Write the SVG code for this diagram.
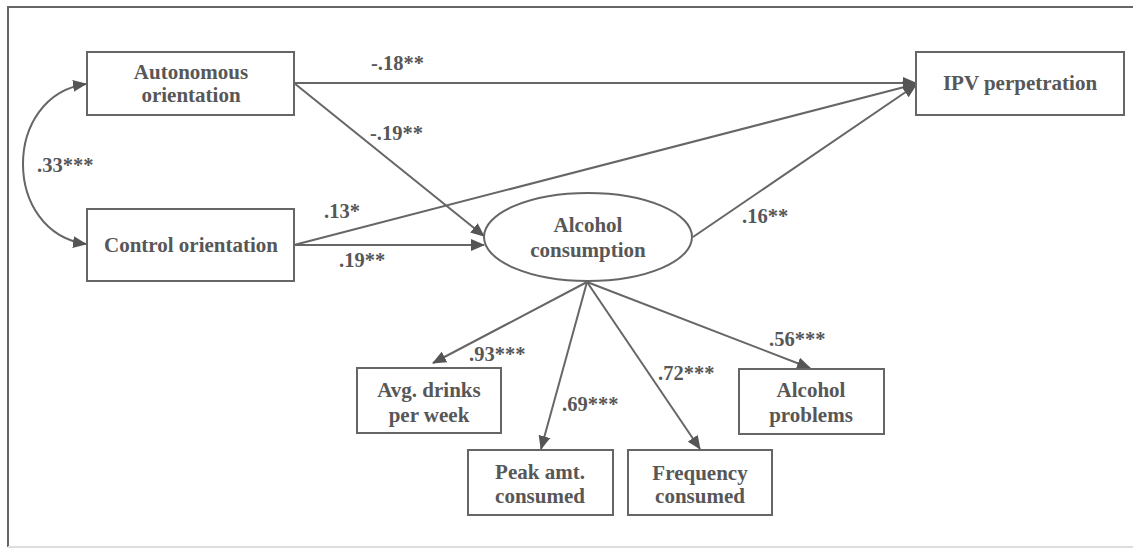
<svg xmlns="http://www.w3.org/2000/svg" width="1133" height="550" viewBox="0 0 1133 550">
<style>
.box{fill:#fff;stroke:#666;stroke-width:2}
.t{font-family:"Liberation Serif","Times New Roman",serif;font-weight:bold;font-size:21px;fill:#575757;text-anchor:middle}
.l{font-family:"Liberation Serif","Times New Roman",serif;font-weight:bold;font-size:20.5px;fill:#575757}
.c{fill:none;stroke:#666;stroke-width:2}
</style>
<defs>
<marker id="ah" markerUnits="userSpaceOnUse" markerWidth="14" markerHeight="12" refX="13" refY="6" orient="auto-start-reverse">
<path d="M0,0 L14,6 L0,12 Z" fill="#555"/>
</marker>
</defs>
<rect width="1133" height="550" fill="#fff"/>
<path d="M1133,7 H8 V547" fill="none" stroke="#666" stroke-width="2"/>
<path d="M8,547 H1133" fill="none" stroke="#ddd" stroke-width="2"/>

<g id="connectors">
<path class="c" d="M86,84 C2,96 2,232 86,244" marker-start="url(#ah)" marker-end="url(#ah)"/>
<line class="c" x1="294" y1="83" x2="916" y2="83" marker-end="url(#ah)"/>
<line class="c" x1="294" y1="83" x2="484" y2="236" marker-end="url(#ah)"/>
<line class="c" x1="294" y1="245" x2="916" y2="84" marker-end="url(#ah)"/>
<line class="c" x1="294" y1="245" x2="484" y2="245" marker-end="url(#ah)"/>
<line class="c" x1="693" y1="237" x2="916" y2="85" marker-end="url(#ah)"/>
<line class="c" x1="587" y1="282" x2="433" y2="363" marker-end="url(#ah)"/>
<line class="c" x1="587" y1="282" x2="541" y2="449" marker-end="url(#ah)"/>
<line class="c" x1="587" y1="282" x2="700" y2="449" marker-end="url(#ah)"/>
<line class="c" x1="587" y1="282" x2="810" y2="368" marker-end="url(#ah)"/>
<text class="l" x="37" y="172">.33***</text>
<text class="l" x="371" y="70">-.18**</text>
<text class="l" x="370" y="140">-.19**</text>
<text class="l" x="324" y="218">.13*</text>
<text class="l" x="339" y="267">.19**</text>
<text class="l" x="742" y="223">.16**</text>
<text class="l" x="469" y="361">.93***</text>
<text class="l" x="562" y="411">.69***</text>
<text class="l" x="658" y="380">.72***</text>
<text class="l" x="769" y="346">.56***</text>
</g>

<g id="autonomous">
<rect class="box" x="87" y="52" width="207" height="63"/>
<text class="t" x="191" y="79">Autonomous</text>
<text class="t" x="191" y="102">orientation</text>
</g>
<g id="control">
<rect class="box" x="87" y="209" width="207" height="72"/>
<text class="t" x="191" y="252">Control orientation</text>
</g>
<g id="ipv">
<rect class="box" x="916" y="52" width="208" height="63"/>
<text class="t" x="1020" y="90">IPV perpetration</text>
</g>
<g id="alcohol">
<ellipse class="box" cx="588" cy="237" rx="104" ry="44"/>
<text class="t" x="588" y="232">Alcohol</text>
<text class="t" x="588" y="257">consumption</text>
</g>
<g id="avg">
<rect class="box" x="357" y="368" width="144" height="65"/>
<text class="t" x="429" y="397">Avg. drinks</text>
<text class="t" x="429" y="422">per week</text>
</g>
<g id="peak">
<rect class="box" x="468" y="450" width="145" height="65"/>
<text class="t" x="540" y="479">Peak amt.</text>
<text class="t" x="540" y="503">consumed</text>
</g>
<g id="frequency">
<rect class="box" x="628" y="450" width="144" height="65"/>
<text class="t" x="700" y="480">Frequency</text>
<text class="t" x="700" y="503">consumed</text>
</g>
<g id="problems">
<rect class="box" x="739" y="369" width="145" height="65"/>
<text class="t" x="811" y="397">Alcohol</text>
<text class="t" x="811" y="422">problems</text>
</g>
</svg>
